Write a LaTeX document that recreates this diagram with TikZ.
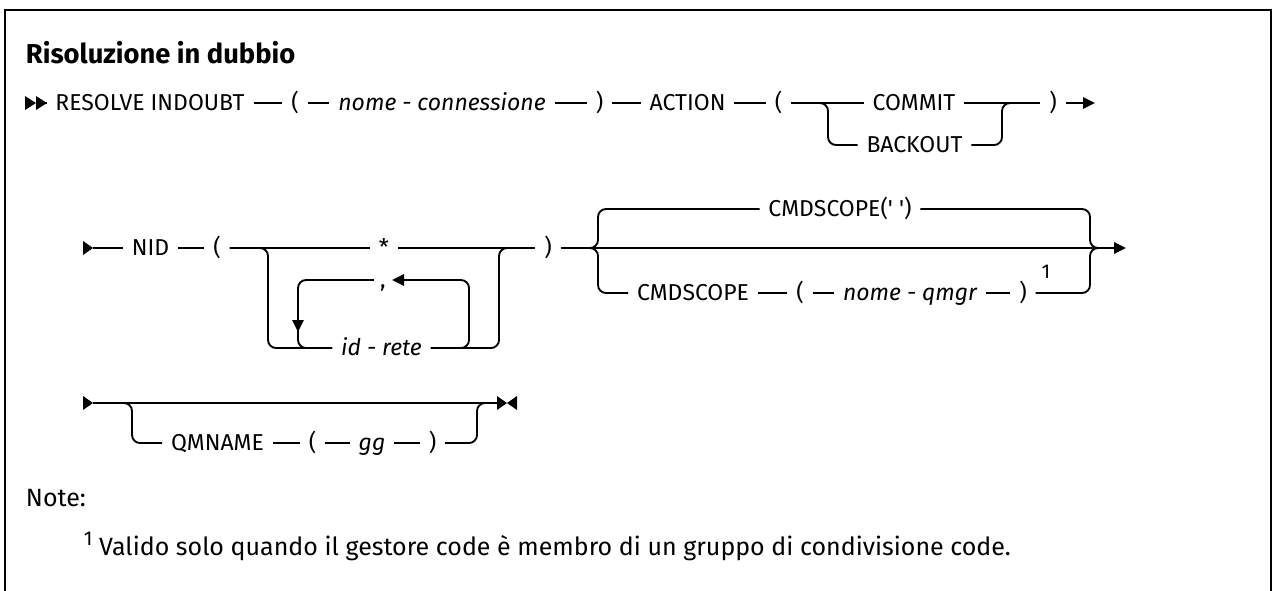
\documentclass[tikz,border=0pt]{standalone}
\usepackage{fontspec}
\newfontfamily\dfont{Fira Sans}
\newfontfamily\nfont{Fira Sans}
\usetikzlibrary{arrows.meta}
\newcommand\dsz{\fontsize{17.25pt}{20pt}\selectfont}
\newcommand\nsz{\fontsize{18.75pt}{22pt}\selectfont}
\begin{document}
\begin{tikzpicture}[x=0.75pt,y=-0.75pt,line width=1.4pt,
  lbl/.style={font=\dfont\dsz, inner xsep=6pt, inner ysep=0pt, text height=11.9pt, text depth=0pt},
  ital/.style={lbl, font=\dfont\dsz\itshape},
  rr/.style={rounded corners=6pt},
  tip/.style={-{Triangle[length=9pt,width=8.5pt]}},
  sup/.style={font=\dfont\fontsize{15pt}{17pt}\selectfont, inner sep=0pt},
  txt/.style={font=\nfont\nsz, inner sep=0pt, anchor=base west}]
\useasboundingbox (0,0) rectangle (1273,590);
% frame
\draw[line width=1.5pt] (5,595) -- (5,10) -- (1271,10) -- (1271,595);
% title
\node[anchor=base west, inner sep=0pt, font=\nfont\bfseries\fontsize{20.5pt}{24pt}\selectfont] (title) at (25,63) {Risoluzione in dubbio};

% ---------- row 1 ----------
\fill (25,96) -- (36,103) -- (25,110) -- cycle;
\fill (36,96) -- (47,103) -- (36,110) -- cycle;
\coordinate (s1) at (47,103);
\node[lbl] (res) at (150,103) {RESOLVE INDOUBT};
\node[lbl] (lp1) at (295,103) {(};
\node[ital] (nc) at (442,103) {nome - connessione};
\node[lbl] (rp1) at (599.5,103) {)};
\node[lbl] (act) at (687.5,103) {ACTION};
\node[lbl] (lp2) at (778.5,103) {(};
\node[lbl] (com) at (914,103) {COMMIT};
\node[lbl] (bak) at (914.5,145) {BACKOUT};
\node[lbl] (rp2) at (1053,103) {)};
\coordinate (e1) at (1095,103);
\draw (s1) -- (res.west);
\draw (res.east) -- (lp1.west);
\draw (lp1.east) -- (nc.west);
\draw (nc.east) -- (rp1.west);
\draw (rp1.east) -- (act.west);
\draw (act.east) -- (lp2.west);
\draw (lp2.east) -- (com.west);
\draw (com.east) -- (rp2.west);
\draw[tip] (rp2.east) -- (e1);
\draw[rr] (lp2.east) -- (828,103) -- (828,145) -- (bak.west);
\draw[rr] (bak.east) -- (1002,145) -- (1002,103) -- (1010,103);

% ---------- row 2 ----------
\fill (83,241) -- (93,248) -- (83,255) -- cycle;
\coordinate (s2) at (93,248);
\node[lbl] (nid) at (150.5,248) {NID};
\node[lbl] (lp3) at (217,248) {(};
\node[lbl] (star) at (384,248) {*};
\node[lbl] (rp3) at (548,248) {)};
\node[ital] (idr) at (381.5,348) {id - rete};
\node[lbl, inner xsep=4pt] (comma) at (383,280) {,};
\draw (s2) -- (nid.west);
\draw (nid.east) -- (lp3.west);
\draw (lp3.east) -- (star.west);
\draw (star.east) -- (rp3.west);
\draw[rr] (lp3.east) -- (268,248) -- (268,348) -- (idr.west);
\draw[rr] (idr.east) -- (499,348) -- (499,248) -- (507,248);
\draw[rr,tip] (453,348) -- (469,348) -- (469,280) -- (comma.east);
\draw[rr] (comma.west) -- (298,280) -- (298,348) -- (306,348);
\draw[tip] (298,305) -- (298,332);

\coordinate (cusp) at (590,248);
\coordinate (e2) at (1126,248);
\draw (rp3.east) -- (cusp);
\draw[tip] (cusp) -- (e2);
\node[lbl] (cq) at (840,209) {CMDSCOPE(' ')};
\node[lbl] (cmd) at (693,293) {CMDSCOPE};
\node[lbl] (lp4) at (800,293) {(};
\node[ital] (qm) at (910,293) {nome - qmgr};
\node[lbl] (rp4) at (1023,293) {)};
\node[sup] (n1) at (1046,272) {1};
\draw[rr] (cusp) -- (598,248) -- (598,209) -- (cq.west);
\draw[rr] (cusp) -- (598,248) -- (598,293) -- (cmd.west);
\draw[rr] (cq.east) -- (1090,209) -- (1090,248) -- (1098,248);
\draw[rr] (rp4.east) -- (1090,293) -- (1090,248) -- (1098,248);
\draw (cmd.east) -- (lp4.west);
\draw (lp4.east) -- (qm.west);
\draw (qm.east) -- (rp4.west);

% ---------- row 3 ----------
\fill (83,396) -- (93,403) -- (83,410) -- cycle;
\coordinate (s3) at (93,403);
\coordinate (e3) at (497,403);
\node[lbl] (qmn) at (217.5,443) {QMNAME};
\node[lbl] (lp5) at (312.5,443) {(};
\node[ital] (gg) at (372,443) {gg};
\node[lbl] (rp5) at (432.5,443) {)};
\draw (s3) -- (e3);
\draw[rr] (s3) -- (132,403) -- (132,443) -- (qmn.west);
\draw[rr] (rp5.east) -- (477,443) -- (477,403) -- (485,403);
\draw (qmn.east) -- (lp5.west);
\draw (lp5.east) -- (gg.west);
\draw (gg.east) -- (rp5.west);
\fill (497,396) -- (507,403) -- (497,410) -- cycle;
\fill (517,396) -- (507,403) -- (517,410) -- cycle;

% ---------- notes ----------
\node[txt] (note) at (25,506) {Note:};
\node[txt] (fn) at (83,555) {{\fontsize{15pt}{17pt}\selectfont\raisebox{7pt}{1}} Valido solo quando il gestore code è membro di un gruppo di condivisione code.};
\end{tikzpicture}
\end{document}
